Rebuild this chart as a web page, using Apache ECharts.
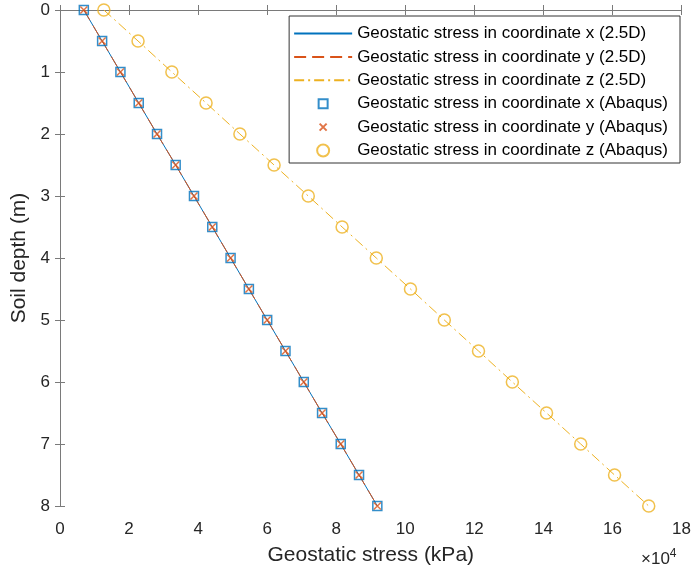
<!DOCTYPE html>
<html>
<head>
<meta charset="utf-8">
<script src="https://cdn.jsdelivr.net/npm/echarts@6/dist/echarts.min.js"></script>
<style>
  html, body { margin: 0; padding: 0; background: #fff; }
  #chart { width: 694px; height: 572px; }
</style>
</head>
<body>
<div id="chart"></div>
<script>
// soil depth (m)
const depth = [0, 0.5, 1, 1.5, 2, 2.5, 3, 3.5, 4, 4.5, 5, 5.5, 6, 6.5, 7, 7.5, 8]
// geostatic stress, units of 1e4 kPa
const stressX25D = [0.69, 1.22, 1.75, 2.28, 2.81, 3.35, 3.88, 4.41, 4.94, 5.47, 6.00, 6.53, 7.06, 7.59, 8.13, 8.66, 9.19]
const stressY25D = [0.69, 1.22, 1.75, 2.28, 2.81, 3.35, 3.88, 4.41, 4.94, 5.47, 6.00, 6.53, 7.06, 7.59, 8.13, 8.66, 9.19]
const stressZ25D = [1.27, 2.26, 3.24, 4.23, 5.21, 6.20, 7.19, 8.17, 9.16, 10.15, 11.13, 12.12, 13.10, 14.09, 15.08, 16.06, 17.05]
const stressXAbaqus = [0.69, 1.22, 1.75, 2.28, 2.81, 3.35, 3.88, 4.41, 4.94, 5.47, 6.00, 6.53, 7.06, 7.59, 8.13, 8.66, 9.19]
const stressYAbaqus = [0.69, 1.22, 1.75, 2.28, 2.81, 3.35, 3.88, 4.41, 4.94, 5.47, 6.00, 6.53, 7.06, 7.59, 8.13, 8.66, 9.19]
const stressZAbaqus = [1.27, 2.26, 3.24, 4.23, 5.21, 6.20, 7.19, 8.17, 9.16, 10.15, 11.13, 12.12, 13.10, 14.09, 15.08, 16.06, 17.05]
const xTicks = [0, 2, 4, 6, 8, 10, 12, 14, 16, 18]
const names = [
  'Geostatic stress in coordinate x (2.5D)',
  'Geostatic stress in coordinate y (2.5D)',
  'Geostatic stress in coordinate z (2.5D)',
  'Geostatic stress in coordinate x (Abaqus)',
  'Geostatic stress in coordinate y (Abaqus)',
  'Geostatic stress in coordinate z (Abaqus)',
]

const FONT = 'Liberation Sans'
const AXIS_COLOR = '#7a7a7a'
const TEXT_COLOR = '#262626'
const BLUE = '#0072BD'
const ORANGE = '#D95319'
const YELLOW = '#EDB120'
const CROSS = 'path://M0,0L10,10M10,0L0,10'
// legend icons, padded with bare moveTo points so they keep their size inside the icon box
const ICON_SQUARE = 'path://M-1.5,-1.5M10.5,10.5M0,0L9,0L9,9L0,9Z'
const ICON_CROSS = 'path://M-2.5,-2.5M9.5,9.5M0,0L7,7M7,0L0,7'
const ICON_CIRCLE = 'path://M0,6A6,6 0 1,0 12,6A6,6 0 1,0 0,6Z'

const pairs = vals => vals.map((v, i) => [v, depth[i]])

const chart = echarts.init(document.getElementById('chart'))

const axisCommon = {
  axisLine: { show: true, lineStyle: { color: AXIS_COLOR, width: 1 } },
  axisTick: { show: true, inside: true, length: 5, lineStyle: { color: AXIS_COLOR } },
  splitLine: { show: false },
}

chart.setOption({
  animation: false,
  textStyle: { fontFamily: FONT },
  grid: { left: 60, right: 12, top: 10, bottom: 66, containLabel: false },
  xAxis: [{
    type: 'value',
    min: xTicks[0],
    max: xTicks[xTicks.length - 1],
    interval: 2,
    position: 'bottom',
    name: 'Geostatic stress (kPa)',
    nameLocation: 'middle',
    nameGap: 39,
    nameTextStyle: { fontSize: 21, color: TEXT_COLOR, fontFamily: FONT },
    axisLabel: { fontSize: 17, color: TEXT_COLOR, margin: 15, fontFamily: FONT },
    ...axisCommon,
  }, {
    type: 'value',
    min: 0,
    max: 18,
    interval: 2,
    position: 'top',
    axisLabel: { show: false },
    ...axisCommon,
  }],
  yAxis: [{
    type: 'value',
    min: 0,
    max: 8,
    interval: 1,
    inverse: true,
    name: 'Soil depth (m)',
    nameLocation: 'middle',
    nameGap: 24,
    nameTextStyle: { fontSize: 21, color: TEXT_COLOR, fontFamily: FONT },
    axisLabel: { fontSize: 17, color: TEXT_COLOR, margin: 10, fontFamily: FONT },
    ...axisCommon,
  }, {
    type: 'value',
    min: 0,
    max: 8,
    interval: 1,
    inverse: true,
    position: 'right',
    axisLabel: { show: false },
    ...axisCommon,
  }],
  legend: {
    orient: 'vertical',
    right: 14,
    top: 16,
    itemWidth: 58,
    itemHeight: 12,
    itemGap: 6.4,
    padding: [9, 12, 4, 4],
    backgroundColor: '#fff',
    borderColor: '#333',
    borderWidth: 1,
    borderRadius: 0,
    textStyle: { fontSize: 17, color: '#000', fontFamily: FONT },
    data: [
      { name: names[0], itemStyle: { opacity: 0 } },
      { name: names[1], itemStyle: { opacity: 0 } },
      { name: names[2], itemStyle: { opacity: 0 } },
      { name: names[3], icon: ICON_SQUARE },
      { name: names[4], icon: ICON_CROSS },
      { name: names[5], icon: ICON_CIRCLE },
    ],
  },
  graphic: [{
    type: 'text',
    left: 641,
    top: 548,
    style: {
      text: '×10{sup|4}',
      font: '17px "Liberation Sans"',
      fill: TEXT_COLOR,
      rich: { sup: { fontSize: 12, verticalAlign: 'top', padding: [0, 0, 10, 0], fill: TEXT_COLOR, fontFamily: FONT } },
    },
  }],
  series: [{
    name: names[0],
    type: 'line',
    data: pairs(stressX25D),
    symbol: 'none',
    lineStyle: { color: BLUE, width: 1, type: 'solid' },
    itemStyle: { color: BLUE },
    z: 2,
  }, {
    name: names[1],
    type: 'line',
    data: pairs(stressY25D),
    symbol: 'none',
    lineStyle: { color: ORANGE, width: 1, type: [12, 6] },
    itemStyle: { color: ORANGE },
    z: 3,
  }, {
    name: names[2],
    type: 'line',
    data: pairs(stressZ25D),
    symbol: 'none',
    lineStyle: { color: YELLOW, width: 1, type: [10, 4, 2, 4] },
    itemStyle: { color: YELLOW },
    z: 2,
  }, {
    name: names[3],
    type: 'scatter',
    data: pairs(stressXAbaqus),
    symbol: 'rect',
    symbolSize: 9,
    itemStyle: { color: 'rgba(0,0,0,0)', borderColor: BLUE, borderWidth: 1.5 },
    z: 4,
  }, {
    name: names[4],
    type: 'scatter',
    data: pairs(stressYAbaqus),
    symbol: CROSS,
    symbolSize: 7,
    itemStyle: { color: 'rgba(0,0,0,0)', borderColor: ORANGE, borderWidth: 1.5 },
    z: 5,
  }, {
    name: names[5],
    type: 'scatter',
    data: pairs(stressZAbaqus),
    symbol: 'circle',
    symbolSize: 12,
    itemStyle: { color: 'rgba(0,0,0,0)', borderColor: YELLOW, borderWidth: 1.5 },
    z: 4,
  }],
})
</script>
</body>
</html>
